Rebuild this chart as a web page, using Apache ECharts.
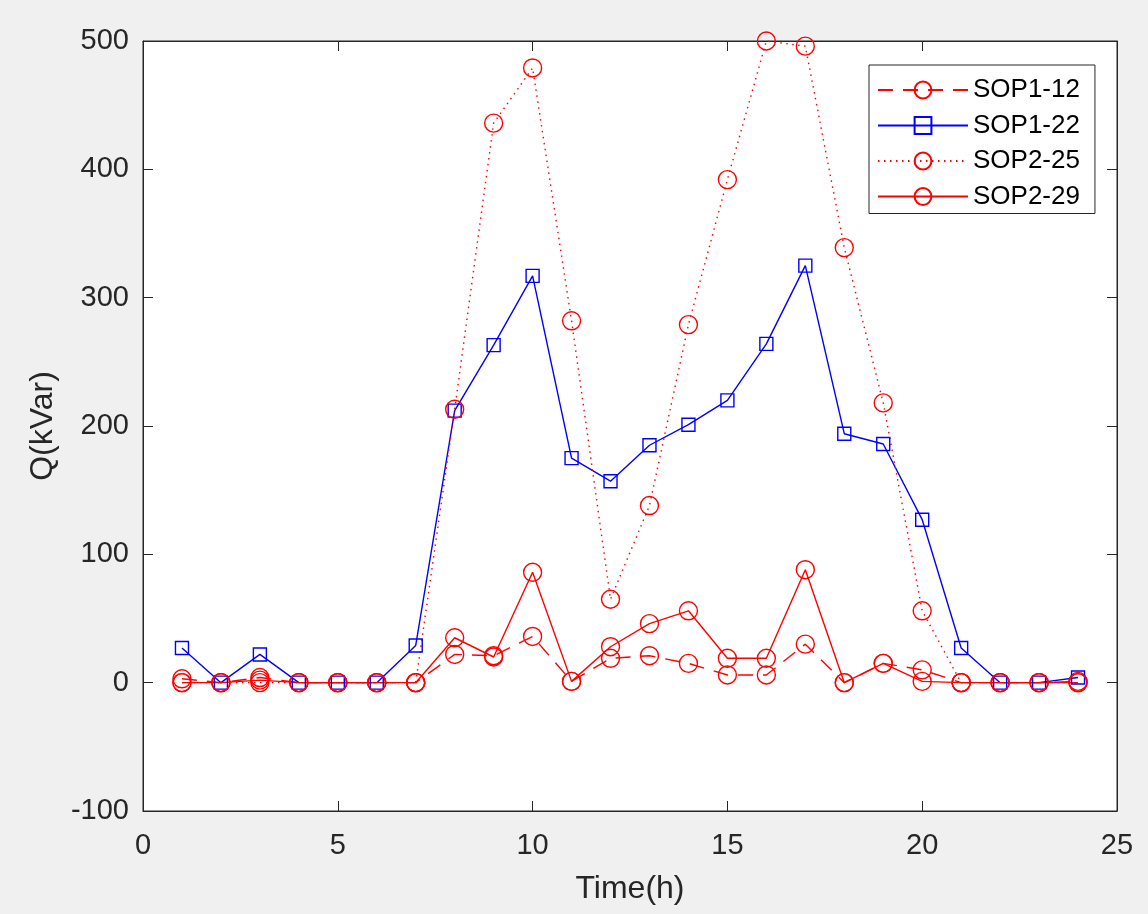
<!DOCTYPE html>
<html>
<head>
<meta charset="utf-8">
<script src="https://cdn.jsdelivr.net/npm/echarts@6/dist/echarts.min.js"></script>
<style>
html,body{margin:0;padding:0;background:#f0f0f0;}
#c{width:1148px;height:914px;}
</style>
</head>
<body>
<div id="c"></div>
<script>
const hours = [1,2,3,4,5,6,7,8,9,10,11,12,13,14,15,16,17,18,19,20,21,22,23,24];
const seriesNames = ['SOP1-12','SOP1-22','SOP2-25','SOP2-29'];
const sop1_12 = [3,0,4,0,0,0,0,22,21,36,1,19,21,15,6,6,30,0,15,10,0,0,0,1];
const sop1_22 = [27,0,22,0,0,0,29,212,263,317,175,157,185,201,220,264,325,194,186,127,27,0,0,4];
const sop2_25 = [0,0,0,0,0,0,0,213,436,479,282,65,138,279,392,500,496,339,218,56,0,0,0,0];
const sop2_29 = [0,0,2,0,0,0,0,35,20,86,1,28,46,56,19,19,88,0,15,1,0,0,0,0];
const xTicks = {min:0, max:25, interval:5};
const yTicks = {min:-100, max:500, interval:100};

const pairs = v => hours.map((h,i)=>[h,v[i]]);
const RED='#ff0000', BLUE='#0000ff', AX='#262626';
const FONT='Liberation Sans';

function mk(name, vals, color, symbol, size, ltype){
  return {
    name, type:'line', data:pairs(vals), symbol, symbolSize:size,
    showAllSymbol:true, animation:false, clip:false,
    lineStyle:{color, width:1.4, type:ltype},
    itemStyle:{color:'rgba(0,0,0,0)', borderColor:color, borderWidth:1.4},
    emphasis:{disabled:true}
  };
}

const chart = echarts.init(document.getElementById('c'));
const axisCommon = {
  axisLine:{show:true, onZero:false, lineStyle:{color:AX, width:1}},
  axisTick:{show:true, inside:true, length:10, lineStyle:{color:AX, width:1}},
  splitLine:{show:false}
};
chart.setOption({
  backgroundColor:'#f0f0f0',
  animation:false,
  grid:{left:143, right:31, top:41, bottom:103, show:true, backgroundColor:'#ffffff', borderColor:AX, borderWidth:1},
  legend:{
    data:seriesNames, orient:'vertical', left:869, top:65,
    backgroundColor:'#ffffff', borderColor:AX, borderWidth:1,
    padding:[12,15,4,8], itemGap:9.5, itemWidth:90, itemHeight:21,
    borderRadius:0,
    textStyle:{fontFamily:FONT, fontSize:26, color:'#000000'}
  },
  xAxis:[
    Object.assign({type:'value', position:'bottom', min:xTicks.min, max:xTicks.max, interval:xTicks.interval,
      name:'Time(h)', nameLocation:'middle', nameGap:62,
      nameTextStyle:{fontFamily:FONT, fontSize:32, color:AX},
      axisLabel:{fontFamily:FONT, fontSize:29, color:AX, margin:20}}, axisCommon),
    Object.assign({type:'value', position:'top', min:xTicks.min, max:xTicks.max, interval:xTicks.interval,
      axisLabel:{show:false}}, axisCommon)
  ],
  yAxis:[
    Object.assign({type:'value', position:'left', min:yTicks.min, max:yTicks.max, interval:yTicks.interval,
      name:'Q(kVar)', nameLocation:'middle', nameGap:84, nameRotate:90,
      nameTextStyle:{fontFamily:FONT, fontSize:32, color:AX},
      axisLabel:{fontFamily:FONT, fontSize:29, color:AX, margin:14}}, axisCommon),
    Object.assign({type:'value', position:'right', min:yTicks.min, max:yTicks.max, interval:yTicks.interval,
      axisLabel:{show:false}}, axisCommon)
  ],
  series:[
    mk(seriesNames[0], sop1_12, RED, 'circle', 18, [15,10]),
    mk(seriesNames[1], sop1_22, BLUE, 'rect', 13, 'solid'),
    mk(seriesNames[2], sop2_25, RED, 'circle', 18, [1.5,4.5]),
    mk(seriesNames[3], sop2_29, RED, 'circle', 18, 'solid')
  ]
});
</script>
</body>
</html>
